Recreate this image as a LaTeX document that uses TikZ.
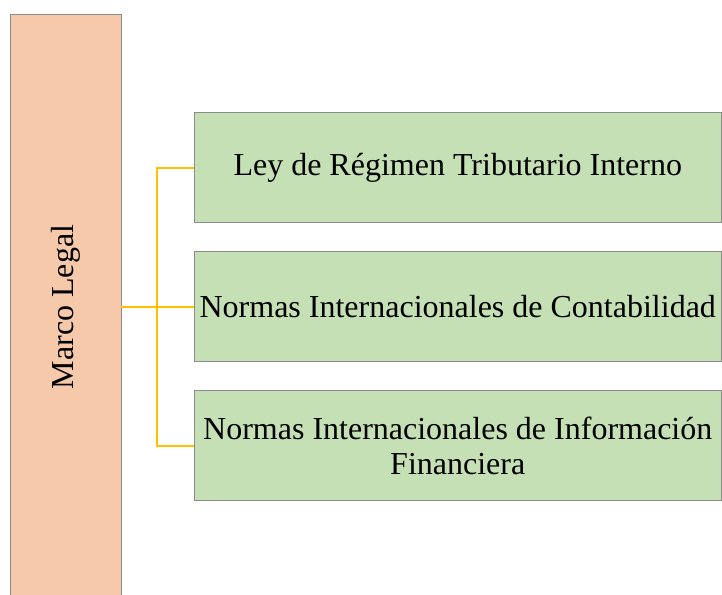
\documentclass[tikz,border=0pt]{standalone}
\usepackage{fontspec}
\setmainfont{Liberation Serif}
\definecolor{peach}{HTML}{F5C9AA}
\definecolor{lgreen}{HTML}{C5E0B4}
\definecolor{bord}{HTML}{8C8C8C}
\definecolor{gold}{HTML}{FFC000}
\begin{document}
\begin{tikzpicture}[x=1pt,y=1pt,
  txt/.style={font=\fontsize{32}{34.5}\selectfont},
  base/.style={txt, draw=bord, line width=1pt, inner sep=0pt, outer sep=0pt, align=center},
  mainbox/.style={base, fill=peach, minimum width=111pt, minimum height=584pt},
  itembox/.style={base, fill=lgreen, minimum width=527.5pt, minimum height=110pt},
  conn/.style={draw=gold, line width=2pt}]
\useasboundingbox (0,0) rectangle (722,594);
\clip (0,0) rectangle (722,594);
\node[mainbox] (ml) at (65.5,287) {};
\node[txt, rotate=90] (mlt) at (66,287) {Marco Legal};
\node[itembox] (b1) at (457.75,426) {Ley de Régimen Tributario Interno};
\node[itembox] (b2) at (457.75,287) {Normas Internacionales de Contabilidad};
\node[itembox] (b3) at (457.75,148) {Normas Internacionales de Información\\Financiera};
\coordinate (j) at (157,287);
\draw[conn] (b1.west) -| (j) |- (b3.west);
\draw[conn] (ml.east) -- (b2.west);
\end{tikzpicture}
\end{document}
